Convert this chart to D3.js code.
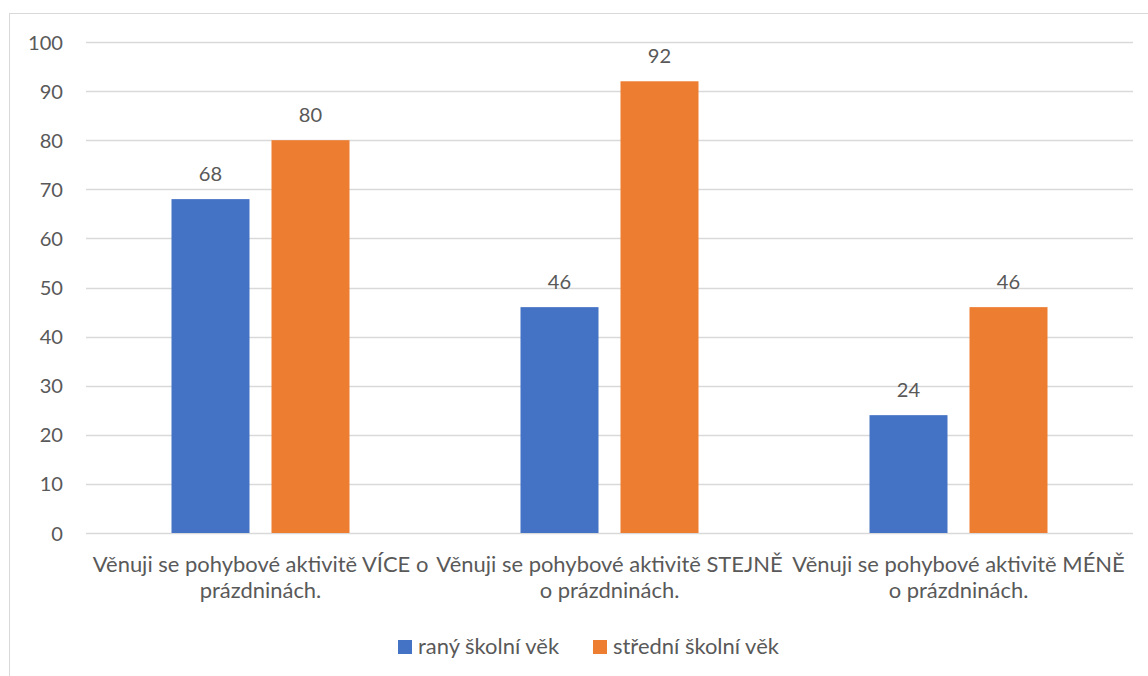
<!DOCTYPE html>
<html>
<head>
<meta charset="utf-8">
<script src="https://cdn.jsdelivr.net/npm/d3@7"></script>
<style>
  html, body { margin: 0; padding: 0; background: #fff; }
  svg { display: block; }
  text { font-family: Lato, "Open Sans", sans-serif; fill: #595959; }
</style>
</head>
<body>
<svg id="chart" width="1148" height="676"></svg>
<script>
// ---- data ----
const categories = [
  "Věnuji se pohybové aktivitě VÍCE o prázdninách.",
  "Věnuji se pohybové aktivitě STEJNĚ o prázdninách.",
  "Věnuji se pohybové aktivitě MÉNĚ o prázdninách."
];
const categoryLines = [
  ["Věnuji se pohybové aktivitě VÍCE o", "prázdninách."],
  ["Věnuji se pohybové aktivitě STEJNĚ", "o prázdninách."],
  ["Věnuji se pohybové aktivitě MÉNĚ", "o prázdninách."]
];
const seriesNames = ["raný školní věk", "střední školní věk"];
const ranyValues = [68, 46, 24];
const stredniValues = [80, 92, 46];
const yTicks = [0, 10, 20, 30, 40, 50, 60, 70, 80, 90, 100];
const colors = ["#4472C4", "#ED7D31"];

const seriesValues = [ranyValues, stredniValues];

// ---- layout ----
const svg = d3.select("#chart");
const plot = { left: 86, right: 1133, top: 42, bottom: 533 };

// frame
svg.append("rect")
  .attr("x", 9.5).attr("y", 13.5)
  .attr("width", 1200).attr("height", 800)
  .attr("fill", "none").attr("stroke", "#D9D9D9").attr("stroke-width", 1);

// font size calibration: match reference text widths
function measure(str) {
  const p = svg.append("text").style("font-size", "20px").text(str);
  const w = p.node().getComputedTextLength();
  p.remove();
  return w;
}
const fs = 20 * 336 / measure(categoryLines[0][0]);
const fsNum = Math.min(20 * 35 / measure("100"), fs * 1.12);

const y = d3.scaleLinear().domain([0, 100]).range([plot.bottom, plot.top]);
const x0 = d3.scaleBand().domain(categories).range([plot.left, plot.right]).padding(0);
const groupW = 178;
const x1 = d3.scaleBand().domain(seriesNames).range([0, groupW]).paddingInner(0.22).paddingOuter(0);

// gridlines
svg.append("g").selectAll("line").data(yTicks).join("line")
  .attr("x1", plot.left).attr("x2", plot.right)
  .attr("y1", d => Math.round(y(d)) + 0.5).attr("y2", d => Math.round(y(d)) + 0.5)
  .attr("stroke", "#D9D9D9").attr("stroke-width", 1.5);

// y axis labels
const yAxis = d3.axisLeft(y).tickValues(yTicks).tickSize(0).tickPadding(0);
const yg = svg.append("g").attr("transform", `translate(63,0)`).call(yAxis);
yg.select(".domain").remove();
yg.selectAll("text")
  .style("font-family", "Lato, 'Open Sans', sans-serif")
  .style("font-size", fsNum + "px").attr("fill", "#595959").attr("dy", "0.35em");

// bars
const groups = svg.append("g").selectAll("g").data(categories).join("g")
  .attr("transform", d => `translate(${x0(d) + (x0.bandwidth() - groupW) / 2},0)`);

groups.each(function(cat, ci) {
  const g = d3.select(this);
  seriesNames.forEach((s, si) => {
    const v = seriesValues[si][ci];
    g.append("rect")
      .attr("x", x1(s)).attr("width", x1.bandwidth())
      .attr("y", y(v)).attr("height", y(0) - y(v))
      .attr("fill", colors[si]);
    g.append("text")
      .attr("x", x1(s) + x1.bandwidth() / 2)
      .attr("y", y(v) - 18)
      .attr("text-anchor", "middle")
      .style("font-size", fsNum + "px")
      .text(v);
  });
});

// category labels
svg.append("g").selectAll("text").data(categories).join("text")
  .attr("text-anchor", "middle")
  .style("font-size", fs + "px")
  .each(function(d, i) {
    const t = d3.select(this);
    categoryLines[i].forEach((line, li) => {
      t.append("tspan")
        .attr("x", x0(d) + x0.bandwidth() / 2)
        .attr("y", 572 + li * 26)
        .text(line);
    });
  });

// legend
const legend = svg.append("g");
const legendX = [398, 593];
seriesNames.forEach((s, i) => {
  legend.append("rect").attr("x", legendX[i]).attr("y", 640).attr("width", 14).attr("height", 14).attr("fill", colors[i]);
  legend.append("text").attr("x", legendX[i] + 20).attr("y", 654)
    .style("font-size", fs + "px").text(s);
});
</script>
</body>
</html>
